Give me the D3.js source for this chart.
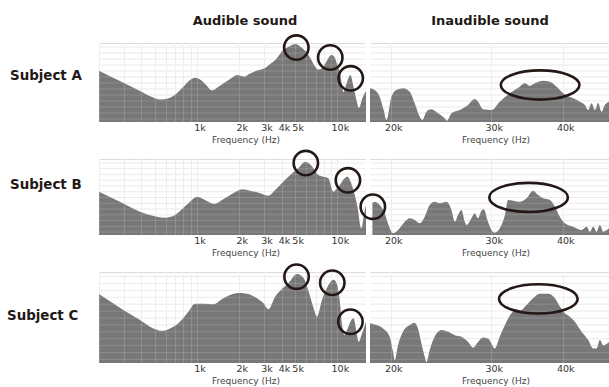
<!DOCTYPE html>
<html>
<head>
<meta charset="utf-8">
<script src="https://cdn.jsdelivr.net/npm/d3@7/dist/d3.min.js"></script>
<style>
  html, body { margin: 0; padding: 0; background: #fff; }
  svg { display: block; font-family: "DejaVu Sans", Verdana, sans-serif; }
</style>
</head>
<body>
<svg id="chart" width="609" height="387"></svg>
<script>
// ---- data ----
const subjects = ['Subject A', 'Subject B', 'Subject C'];
const panelTitles = ['Audible sound', 'Inaudible sound'];
const audibleGridHz = [200, 300, 400, 500, 600, 700, 800, 900, 1000, 2000, 3000, 4000, 5000, 6000, 7000, 8000, 9000, 10000];
const audibleTickHz = [1000, 2000, 3000, 4000, 5000, 10000];
const inaudibleGridHz = [20000, 30000, 40000];
const inaudibleTickHz = [20000, 30000, 40000];
const levelGridDb = [3, 8, 13, 18, 23, 28, 33, 38, 43, 48, 53, 58, 63, 66];

const aAudibleHz = [200, 282, 392, 477, 544, 621, 708, 808, 891, 968, 1050, 1159, 1280, 1413, 1560, 1722, 1931, 2167, 2392, 2683, 3060, 3321, 3666, 4113, 4615, 5012, 5441, 5907, 6413, 6962, 7314, 7818, 8487, 9058, 9524, 10000, 10500, 11036, 11593, 12390, 13010, 13670, 14250, 15090, 16000];
const aAudibleDb = [42.8, 34.2, 25.9, 20.9, 18.8, 19.6, 23.4, 30.1, 35.1, 37, 35.5, 30.9, 26.3, 29.2, 32.6, 35.9, 39.2, 38, 40.5, 43, 45.1, 48.4, 52.6, 60.1, 63.5, 65.1, 63, 59.3, 53.4, 45.9, 43.8, 45.1, 51.8, 55.9, 54.3, 47.6, 40.1, 25, 31.7, 39.2, 30.1, 18.4, 11.7, 20, 25.9];
const aInaudibleHz = [18400, 18750, 19130, 19440, 19660, 20060, 20460, 21020, 21590, 22030, 22480, 22730, 23100, 23560, 24200, 24860, 25100, 25550, 26420, 27320, 28060, 28440, 29020, 30020, 31040, 32310, 33640, 34330, 35040, 35740, 36960, 37980, 39020, 40080, 41710, 42860, 43740, 44320, 44930, 45540, 46140, 46770, 47400, 48200];
const aInaudibleDb = [28.1, 26.7, 21.1, 10, 1.7, 21.1, 26.7, 28.1, 25.3, 15.6, 4.4, 1.7, 8.6, 10.6, 7.3, 3.1, 1.1, 7.3, 10, 14.2, 19.2, 17, 10.6, 10, 17, 24, 29.5, 32.3, 30.1, 32.3, 34.5, 33.7, 29.5, 24, 19.8, 17, 14.2, 10, 15.6, 10, 16.1, 8.6, 14.2, 17];

const bAudibleHz = [200, 296, 392, 518, 591, 697, 794, 891, 1000, 1141, 1322, 1534, 1808, 2096, 2392, 2818, 3214, 3606, 4113, 4615, 5262, 5907, 6627, 7314, 7943, 8630, 9354, 10160, 11780, 12800, 13900, 14830, 15590, 16000];
const bAudibleDb = [37.6, 27.5, 20.2, 15.9, 15, 17.4, 23.2, 28.9, 33.2, 30.4, 26.9, 31, 36.2, 39.7, 38.5, 36.2, 34.1, 39.1, 46.3, 52.1, 57.9, 63.6, 59.3, 52.1, 50.6, 49.2, 37.6, 41.9, 50.6, 41.9, 24.6, 5.8, 20, 26];
const bInaudibleHz = [18580, 18750, 19130, 19520, 19780, 20190, 20600, 21160, 21590, 22030, 22480, 22940, 23400, 23870, 24370, 25040, 25550, 25890, 26230, 26600, 26960, 27140, 27690, 28060, 28440, 28830, 29100, 29600, 30020, 30420, 31040, 31690, 32100, 32740, 33640, 34580, 35500, 36220, 36960, 37980, 38760, 39540, 40340, 41710, 43160, 44040, 44630, 45230, 45850, 46460, 47080, 48200];
const bInaudibleDb = [27.5, 28.9, 26, 18.8, 10.2, 1.5, 4.3, 11.5, 14.5, 13, 10.2, 15.9, 26, 28.9, 27.5, 28.9, 21.7, 11.5, 17.4, 21.7, 11.5, 8.7, 14.5, 18.8, 14.5, 21.1, 22.3, 11.5, 4.3, 2, 5.8, 17.4, 30.4, 29.8, 28.9, 31.9, 38.5, 34.7, 31.9, 30.4, 24.6, 15.9, 10.2, 7.2, 4.3, 7.2, 2.9, 7.2, 2.9, 8.7, 2.9, 5.8];

const cAudibleHz = [200, 298, 392, 488, 560, 641, 756, 867, 968, 1109, 1307, 1501, 1722, 2028, 2265, 2670, 2977, 3230, 3606, 4027, 4487, 5155, 5745, 6240, 6770, 7160, 7776, 8524, 9414, 9955, 10380, 10810, 11220, 11730, 12390, 13060, 13670, 14190, 15000, 16000];
const cAudibleDb = [50, 38.5, 31.2, 25.1, 23.4, 25.1, 29.9, 37.2, 42.9, 42.9, 42.6, 46.3, 49.4, 50.7, 50.2, 47, 43.4, 39, 48.2, 53.6, 58, 64.5, 61.6, 51.8, 39.7, 33.6, 45.8, 55.5, 60.4, 56.7, 45.8, 27.5, 20.2, 23.9, 29.9, 32.4, 22.6, 15.3, 21.5, 29.9];
const cInaudibleHz = [18400, 18880, 19390, 19920, 20190, 20330, 20600, 21020, 21590, 22030, 22320, 22640, 22940, 23100, 23400, 23870, 24540, 25200, 25890, 26600, 27320, 27880, 28440, 29020, 29600, 30020, 30420, 31040, 31890, 32540, 33200, 33640, 34580, 35500, 36480, 37720, 38760, 39540, 40340, 41160, 42000, 43160, 44320, 45230, 45850, 46460, 47080, 48200];
const cInaudibleDb = [28.8, 27.5, 25.1, 19, 8, 2, 12.9, 22.6, 27.5, 29.2, 25.1, 14.2, 4.4, 0.7, 9.3, 19, 23.9, 22.6, 20.2, 19, 15.3, 11.2, 15.3, 18.5, 17.8, 14.2, 10.5, 19, 29.9, 36.1, 39, 38, 42.1, 47, 50.2, 50.2, 47, 40.9, 36.1, 33.6, 29.9, 22.6, 16.6, 10.5, 10.5, 16.6, 12.9, 15.3];

// circled peaks (row, Hz, dB) and ellipse over the inaudible hump
const circleRow = [0, 0, 0, 1, 1, 1, 2, 2, 2];
const circleHz = [5100, 8900, 12450, 5960, 11890, 17900, 5120, 9200, 12390];
const circleDb = [62.2, 53.9, 36.5, 62.5, 47.5, 24.6, 62.6, 58.2, 29.9];
const ellipseHz = [36520, 34860, 36260];
const ellipseDb = [30.9, 32.6, 46.5];

// ---- layout ----
const rows = [
  { top: 43, bottom: 122, labelY: 79.5, labelX: 10 },
  { top: 159, bottom: 235, labelY: 189, labelX: 10 },
  { top: 272, bottom: 363, labelY: 319.5, labelX: 7 }
];
const audibleSeries = [[aAudibleHz, aAudibleDb], [bAudibleHz, bAudibleDb], [cAudibleHz, cAudibleDb]];
const inaudibleSeries = [[aInaudibleHz, aInaudibleDb], [bInaudibleHz, bInaudibleDb], [cInaudibleHz, cInaudibleDb]];

const fillColor = '#787878';
const inkColor = '#231815';

const svg = d3.select('#chart');
const xAudible = d3.scaleLog().domain([200, 16000]).range([99, 366]);
const xInaudible = d3.scaleLog().domain([18400, 48200]).range([370, 609]);

const panels = [
  { x: xAudible, grid: audibleGridHz, ticks: audibleTickHz, series: audibleSeries, labelDx: 147, titleX: 245 },
  { x: xInaudible, grid: inaudibleGridHz, ticks: inaudibleTickHz, series: inaudibleSeries, labelDx: 126, titleX: 490 }
];

panels.forEach((p, pi) => {
  svg.append('text')
    .attr('x', p.titleX)
    .attr('y', 24.5)
    .attr('text-anchor', 'middle')
    .attr('font-weight', 'bold')
    .attr('font-size', 13)
    .attr('fill', inkColor)
    .text(panelTitles[pi]);
});

rows.forEach((r, ri) => {
  const y = d3.scaleLinear().domain([0, 66]).range([r.bottom, r.top]);

  svg.append('text')
    .attr('x', r.labelX)
    .attr('y', r.labelY)
    .attr('font-weight', 'bold')
    .attr('font-size', 13.4)
    .attr('fill', inkColor)
    .text(subjects[ri]);

  panels.forEach((p, pi) => {
    const [x0, x1] = p.x.range();
    const g = svg.append('g');
    const clipId = 'clip-' + ri + '-' + pi;
    g.append('clipPath').attr('id', clipId)
      .append('rect')
      .attr('x', x0).attr('y', r.top)
      .attr('width', x1 - x0).attr('height', r.bottom - r.top);

    const inner = g.append('g').attr('clip-path', 'url(#' + clipId + ')');

    // grid under the area
    inner.selectAll('line.h').data(levelGridDb).join('line')
      .attr('x1', x0).attr('x2', x1)
      .attr('y1', d => y(d) + 0.5).attr('y2', d => y(d) + 0.5)
      .attr('stroke', d => d === 66 ? '#d6d6d6' : '#e9e9e9');
    inner.selectAll('line.v').data(p.grid).join('line')
      .attr('x1', d => Math.round(p.x(d)) + 0.5).attr('x2', d => Math.round(p.x(d)) + 0.5)
      .attr('y1', r.top).attr('y2', r.bottom)
      .attr('stroke', '#ececec');

    const [hz, db] = p.series[ri];
    const pts = hz.map((h, i) => [h, db[i]]);
    const area = d3.area()
      .x(d => p.x(d[0]))
      .y0(y(0))
      .y1(d => y(d[1]))
      .curve(d3.curveMonotoneX);
    inner.append('path')
      .datum(pts)
      .attr('d', area)
      .attr('fill', fillColor);

    // grid showing faintly through the area
    const over = inner.append('g').attr('stroke', '#ffffff').attr('stroke-opacity', 0.15);
    over.selectAll('line.h').data(levelGridDb).join('line')
      .attr('x1', x0).attr('x2', x1)
      .attr('y1', d => y(d) + 0.5).attr('y2', d => y(d) + 0.5);
    over.selectAll('line.v').data(p.grid).join('line')
      .attr('x1', d => Math.round(p.x(d)) + 0.5).attr('x2', d => Math.round(p.x(d)) + 0.5)
      .attr('y1', r.top).attr('y2', r.bottom);

    // tick labels
    g.selectAll('text.tick').data(p.ticks).join('text')
      .attr('class', 'tick')
      .attr('x', d => p.x(d) + 3)
      .attr('y', r.bottom + 9)
      .attr('text-anchor', 'middle')
      .attr('font-size', 9.5)
      .attr('fill', '#333')
      .text(d => d / 1000 + 'k');

    g.append('text')
      .attr('x', x0 + p.labelDx)
      .attr('y', r.bottom + 21)
      .attr('text-anchor', 'middle')
      .attr('font-size', 9)
      .attr('fill', '#444')
      .text('Frequency (Hz)');
  });

  // annotations
  const marks = svg.append('g')
    .attr('fill', 'none')
    .attr('stroke', inkColor)
    .attr('stroke-width', 2.6);
  const idx = d3.range(circleRow.length).filter(i => circleRow[i] === ri);
  marks.selectAll('circle').data(idx).join('circle')
    .attr('cx', i => xAudible(circleHz[i]))
    .attr('cy', i => y(circleDb[i]))
    .attr('r', 12.2);
  marks.append('ellipse')
    .attr('cx', xInaudible(ellipseHz[ri]))
    .attr('cy', y(ellipseDb[ri]))
    .attr('rx', 39.3)
    .attr('ry', 14.6);
});
</script>
</body>
</html>
